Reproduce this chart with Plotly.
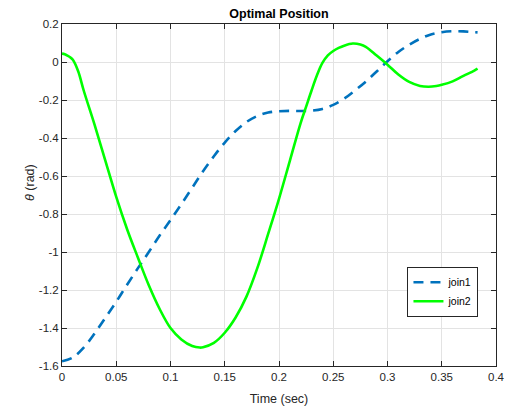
import plotly.graph_objects as go

# ---- data ----
t_join1 = [0.00, 0.01, 0.02, 0.03, 0.04, 0.05, 0.06, 0.07, 0.08, 0.09,
           0.10, 0.11, 0.12, 0.13, 0.14, 0.15, 0.16, 0.17, 0.18, 0.19,
           0.20, 0.21, 0.22, 0.23, 0.24, 0.25, 0.26, 0.27, 0.28, 0.29,
           0.30, 0.31, 0.32, 0.33, 0.34, 0.35, 0.36, 0.37, 0.38, 0.383]
join1 = [-1.575, -1.555, -1.503, -1.429, -1.346, -1.262, -1.172, -1.085, -1.000, -0.913,
         -0.832, -0.748, -0.662, -0.575, -0.496, -0.424, -0.363, -0.316, -0.284, -0.266,
         -0.259, -0.257, -0.258, -0.256, -0.247, -0.226, -0.193, -0.150, -0.103, -0.050,
         0.004, 0.053, 0.091, 0.122, 0.145, 0.157, 0.162, 0.161, 0.157, 0.156]

t_join2 = [0.000, 0.0025, 0.005, 0.0075, 0.010, 0.015, 0.020, 0.030, 0.040, 0.050,
           0.060, 0.070, 0.080, 0.090, 0.100, 0.110, 0.120, 0.127, 0.130, 0.140,
           0.150, 0.160, 0.170, 0.180, 0.190, 0.200, 0.210, 0.220, 0.225, 0.230,
           0.235, 0.240, 0.245, 0.250, 0.255, 0.260, 0.268, 0.275, 0.280, 0.290,
           0.300, 0.310, 0.320, 0.330, 0.338, 0.345, 0.350, 0.360, 0.370, 0.380,
           0.383]
join2 = [0.044, 0.041, 0.034, 0.025, 0.012, -0.050, -0.150, -0.330, -0.520, -0.710,
         -0.880, -1.030, -1.175, -1.300, -1.400, -1.460, -1.495, -1.503, -1.501, -1.478,
         -1.425, -1.345, -1.235, -1.085, -0.905, -0.720, -0.520, -0.320, -0.235, -0.150,
         -0.070, -0.005, 0.035, 0.058, 0.074, 0.086, 0.097, 0.092, 0.080, 0.034,
         -0.014, -0.066, -0.105, -0.126, -0.130, -0.126, -0.120, -0.102, -0.073, -0.045,
         -0.035]

x_ticks = [0, 0.05, 0.1, 0.15, 0.2, 0.25, 0.3, 0.35, 0.4]
x_ticktext = ["0", "0.05", "0.1", "0.15", "0.2", "0.25", "0.3", "0.35", "0.4"]
y_ticks = [0.2, 0, -0.2, -0.4, -0.6, -0.8, -1, -1.2, -1.4, -1.6]
y_ticktext = ["0.2", "0", "-0.2", "-0.4", "-0.6", "-0.8", "-1", "-1.2", "-1.4", "-1.6"]

FONT = "Liberation Sans, Arial, Helvetica, sans-serif"
AX = "#262626"

fig = go.Figure()
fig.add_trace(go.Scatter(x=t_join1, y=join1, mode="lines", name="join1",
                         line=dict(color="#0072BD", width=2.6, dash="10px,7px",
                                   shape="spline", smoothing=1.0)))
fig.add_trace(go.Scatter(x=t_join2, y=join2, mode="lines", name="join2",
                         line=dict(color="#00FF00", width=2.6,
                                   shape="spline", smoothing=1.0)))

axis_common = dict(showline=True, linecolor=AX, linewidth=1, mirror="ticks",
                   ticks="inside", ticklen=5, tickcolor=AX, tickwidth=1,
                   showgrid=True, gridcolor="#e3e3e3", gridwidth=1,
                   zeroline=False, automargin=False,
                   tickfont=dict(family=FONT, size=11.5, color=AX))

fig.update_xaxes(range=[0, 0.4], tickvals=x_ticks, ticktext=x_ticktext,
                 title=dict(text="Time (sec)", font=dict(family=FONT, size=12.5, color=AX), standoff=12),
                 **axis_common)
fig.update_yaxes(range=[-1.6, 0.2], tickvals=y_ticks, ticktext=y_ticktext, **axis_common)

fig.add_annotation(text="<i>θ</i> (rad)", textangle=-90, xref="paper", yref="paper",
                   x=-0.0724, y=0.537, showarrow=False, xanchor="center", yanchor="middle",
                   font=dict(family=FONT, size=12.5, color=AX))

fig.update_layout(
    width=510, height=412,
    margin=dict(l=62, r=14, t=24, b=46),
    paper_bgcolor="white", plot_bgcolor="white",
    title=dict(text="<b>Optimal Position</b>", x=0.547, xanchor="center", y=0.968, yanchor="middle",
               font=dict(family=FONT, size=12.5, color="black")),
    legend=dict(x=0.796, y=0.29, xanchor="left", yanchor="top",
                bgcolor="white", bordercolor=AX, borderwidth=1,
                font=dict(family=FONT, size=10.5, color="black"),
                tracegroupgap=0, itemwidth=30),
    showlegend=True,
)

fig.write_html("out.html")
